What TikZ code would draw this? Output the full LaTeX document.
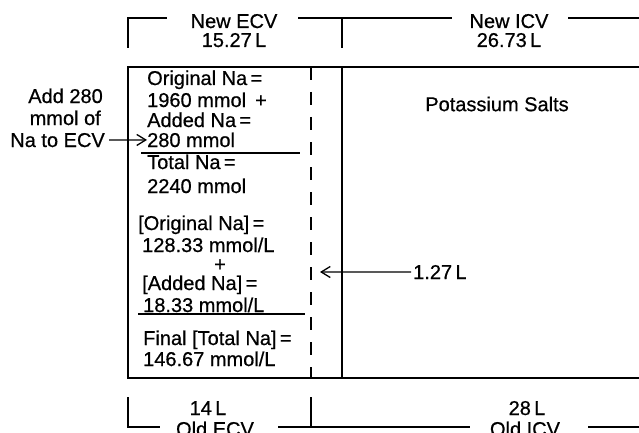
\documentclass[tikz,border=0pt]{standalone}
\usepackage{fontspec}
\setmainfont[FakeBold=0.6]{Liberation Sans}
\usetikzlibrary{arrows.meta}

\begin{document}
\begin{tikzpicture}[
  x=1pt, y=-1pt,
  txt/.style={inner sep=0pt, font=\fontsize{20}{22}\selectfont},
  lbl/.style={txt, anchor=base west},
  hdr/.style={txt, anchor=base},
  wall/.style={line width=1.6pt},
  brace/.style={line width=1.4pt},
  arrow/.style={-{Straight Barb[length=9pt, width=11pt, line width=1.3pt]}, line width=1.3pt}
]
\useasboundingbox (0,0) rectangle (639,433);
\clip (0,0) rectangle (639,433);

%% Compartments
\draw[wall] (639,67) -- (128,67) -- (128,378) -- (639,378);
\draw[wall, dash pattern=on 13pt off 12pt] (311,67) -- (311,378);
\draw[wall] (342,67) -- (342,378);

%% New volumes on top
\node[hdr] (newecv)  at (234,28) {New ECV};
\node[hdr] (newecvl) at (234,47) {15.27\,L};
\node[hdr] (newicv)  at (509,28) {New ICV};
\node[hdr] (newicvl) at (509,47) {26.73\,L};
\draw[brace] (128,48) -- (128,18) -- (167,18);
\draw[brace] (298,18) -- (452,18);
\draw[brace] (342,18) -- (342,48);
\draw[brace] (568,18) -- (639,18);

%% Old volumes below
\node[hdr] (oldecvl) at (208,415) {14\,L};
\node[hdr] (oldecv)  at (215,436) {Old ECV};
\node[hdr] (oldicvl) at (527,415) {28\,L};
\node[hdr] (oldicv)  at (525,436) {Old ICV};
\draw[brace] (128,397) -- (128,427) -- (160,427);
\draw[brace] (278,427) -- (470,427);
\draw[brace] (311,397) -- (311,427);
\draw[brace] (588,427) -- (639,427);

%% Sodium added from outside
\node[txt, anchor=base east] (add)     at (103,103) {Add 280};
\node[txt, anchor=base east] (mmolof)  at (101,125) {mmol of};
\node[txt, anchor=base east] (natoecv) at (105,147) {Na to ECV};

%% ECV contents
\node[lbl] (orig)   at (147,85)  {Original Na\,=};
\node[lbl] (n1960)  at (147,107) {1960 mmol\hspace{9pt}+};
\node[lbl] (added)  at (147,127) {Added Na\,=};
\node[lbl] (n280)   at (147,147) {280 mmol};
\draw[brace] (141,153) -- (300,153);
\node[lbl] (total)  at (147,169) {Total Na\,=};
\node[lbl] (n2240)  at (147,193) {2240 mmol};
\node[lbl] (origc)  at (138,230) {[Original Na]\,=};
\node[lbl] (n128)   at (142,252) {128.33 mmol/L};
\node[hdr] (plus)   at (220,271) {+};
\node[lbl] (addedc) at (142,290) {[Added Na]\,=};
\node[lbl] (n18)    at (143,312) {18.33 mmol/L};
\draw[brace] (138,314) -- (305,314);
\node[lbl] (final)  at (143,345) {Final [Total Na]\,=};
\node[lbl] (n146)   at (143,366) {146.67 mmol/L};

%% ICV contents and water shift
\node[txt] (ksalts) at (497,104) {Potassium Salts};
\node[lbl] (shift)  at (413,279) {1.27\,L};
\coordinate (oldwall) at (320,272);

%% Arrows
\draw[arrow, shorten <=4pt] (natoecv) -- (n280);
\draw[arrow, shorten <=2pt] (shift) -- (oldwall);
\end{tikzpicture}
\end{document}
